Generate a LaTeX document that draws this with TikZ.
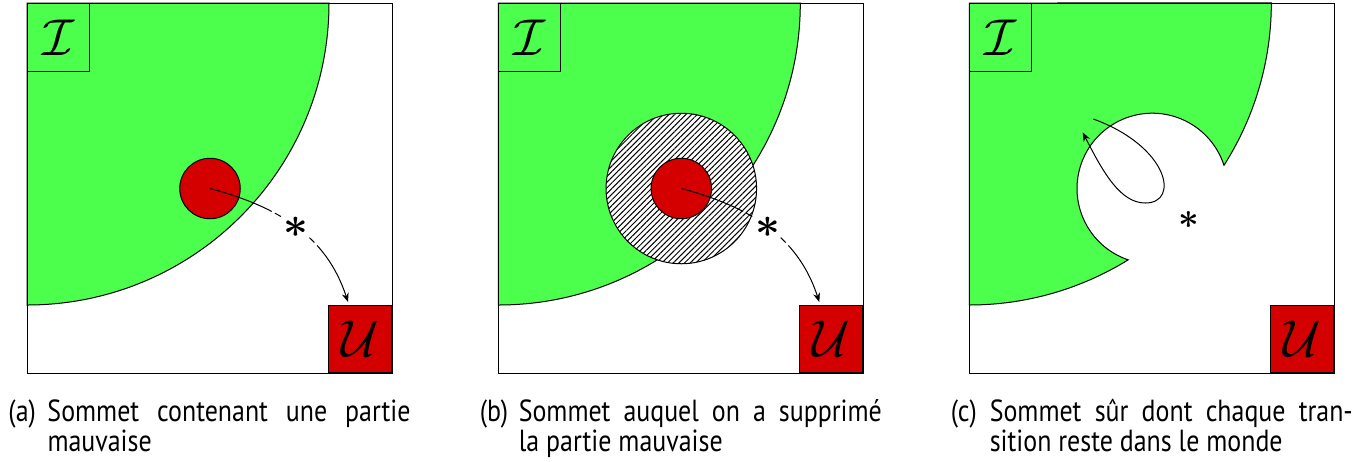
\documentclass[tikz,border=0pt]{standalone}
\usepackage{fontspec}
\setmainfont{PT Sans}[FakeStretch=0.85]
\usetikzlibrary{arrows.meta, patterns.meta}
\definecolor{zonegreen}{RGB}{77,255,77}
\definecolor{zonered}{RGB}{212,0,0}

\begin{document}
\begin{tikzpicture}[x=0.4pt, y=0.4pt,
    initbox/.style={draw, fill=zonegreen, inner sep=0pt, minimum width=24.8pt, minimum height=27.2pt, anchor=north west, font=\huge},
    unsafebox/.style={draw, fill=zonered, inner sep=0pt, minimum width=25.2pt, minimum height=26.8pt, anchor=south east, font=\huge},
    badzone/.style={circle, draw, fill=zonered, inner sep=0pt, minimum size=24.2pt},
    hatched/.style={circle, draw, preaction={fill=white}, pattern={Lines[angle=45, distance=1.6pt, line width=0.4pt]}, inner sep=0pt, minimum size=60.2pt},
    trans/.style={-{Stealth[length=3.6pt, width=2.8pt]}},
    starred/.style={trans, dash pattern=on 26.4pt off 1.4pt on 2.8pt off 14.2pt on 2.8pt off 1.6pt on 60pt},
    starlabel/.style={font=\LARGE\boldmath, inner sep=0pt},
    captext/.style={anchor=base west, inner sep=0pt, text width=160.8pt, align=justify, font=\fontsize{12.2pt}{11.9pt}\selectfont}
  ]
  \useasboundingbox (0,0) rectangle (1370,-461);

  % (a) sommet avec une partie mauvaise
  \begin{scope}[shift={(27,-3)}]
    \filldraw[fill=zonegreen] (0,0) -- (0,-302) arc[start angle=-90, end angle=0, radius=302] -- cycle;
    \node[initbox] (ia) at (0,0) {$\mathcal{I}$};
    \node[unsafebox] (ua) at (365,-370) {$\mathcal{U}$};
    \draw (0,0) rectangle (365,-370);
    \node[badzone] (bada) at (183,-185.5) {};
    \coordinate (enda) at ([shift={(20,3)}]ua.north west);
    \draw[starred] (bada.center) to[out=-15, in=108] node[starlabel] (stara) {$\ast$} (enda);
    \node[captext] (capa) at (-19,-418.7) {\hangindent=15.6pt\hangafter=1\makebox[15.6pt][l]{(a)}Sommet contenant une partie\linebreak mauvaise\par};
  \end{scope}

  % (b) partie mauvaise supprimee
  \begin{scope}[shift={(498.3,-3)}]
    \filldraw[fill=zonegreen] (0,0) -- (0,-302) arc[start angle=-90, end angle=0, radius=302] -- cycle;
    \node[initbox] (ib) at (0,0) {$\mathcal{I}$};
    \node[unsafebox] (ub) at (365,-370) {$\mathcal{U}$};
    \draw (0,0) rectangle (365,-370);
    \node[hatched] (holeb) at (183,-185.5) {};
    \node[badzone] (badb) at (holeb.center) {};
    \coordinate (endb) at ([shift={(20,3)}]ub.north west);
    \draw[starred] (badb.center) to[out=-15, in=108] node[starlabel] (starb) {$\ast$} (endb);
    \node[captext] (capb) at (-19,-418.7) {\hangindent=15.6pt\hangafter=1\makebox[15.6pt][l]{(b)}Sommet auquel on a supprimé\linebreak la partie mauvaise\par};
  \end{scope}

  % (c) sommet sur
  \begin{scope}[shift={(969.3,-3)}]
    \filldraw[fill=zonegreen] (0,0) -- (0,-302) arc[start angle=-90, end angle=-58.26, radius=302]
      arc[start angle=251.29, end angle=17.93, radius=75.3]
      arc[start angle=-32.52, end angle=0, radius=302] -- cycle;
    \node[initbox] (ic) at (0,0) {$\mathcal{I}$};
    \node[unsafebox] (uc) at (365,-370) {$\mathcal{U}$};
    \draw (0,0) rectangle (365,-370);
    \coordinate (loopin) at (124,-116);
    \coordinate (loopout) at (113.4,-129.3);
    \draw[trans] (loopin) .. controls (199.2,-143.4) and (211,-200) .. (176,-200)
      .. controls (151,-200) and (133.8,-169.4) .. (loopout);
    \node[starlabel, font=\Large\boldmath] (starc) at (219.7,-217) {$\ast$};
    \node[captext] (capc) at (-19,-418.7) {\hangindent=15.6pt\hangafter=1\makebox[15.6pt][l]{(c)}Sommet sûr dont chaque tran-\linebreak sition reste dans le monde\par};
  \end{scope}
\end{tikzpicture}
\end{document}
